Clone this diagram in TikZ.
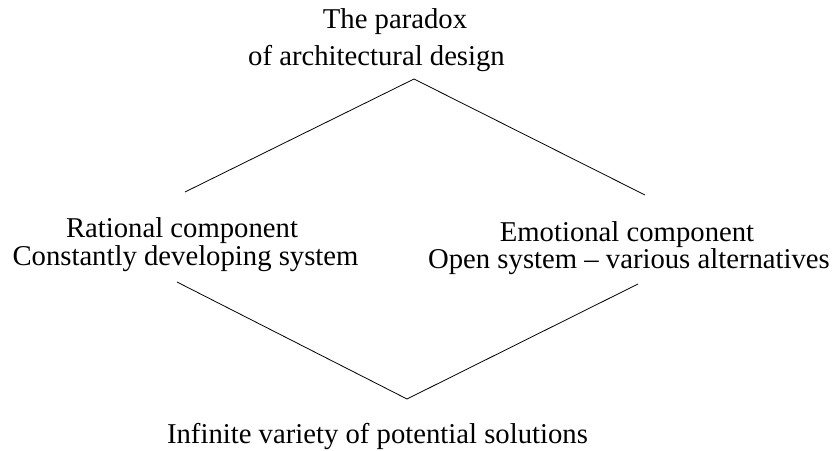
\documentclass[tikz,border=0pt]{standalone}
\usepackage{fontspec}
\setmainfont{Liberation Serif}
\usetikzlibrary{positioning,calc}
\tikzset{
    txt/.style={
        anchor=base,
        inner sep=0pt,
        font=\fontsize{28.7}{34}\selectfont,
    },
    branch/.style={
        line width=0.8pt,
    },
}

\begin{document}
\begin{tikzpicture}[x=1pt,y=-1pt]
    \useasboundingbox (0,0) rectangle (833,450);
    % labels
    \node [txt] (paradox) at (395,28) {The paradox};
    \node [txt] (design) at (376.5,65) {of architectural design};
    \node [txt] (rational) at (182,237) {Rational component};
    \node [txt] (constant) at (185.5,265) {Constantly developing system};
    \node [txt] (emotional) at (627,241.5) {Emotional component};
    \node [txt] (open) at (629,268) {Open system -- various alternatives};
    \node [txt] (infinite) at (377.5,443) {Infinite variety of potential solutions};
    % corners of the diamond
    \coordinate (top) at (414,79);
    \coordinate (left-top) at (185,192);
    \coordinate (right-top) at (645,195);
    \coordinate (left-bot) at (177,282);
    \coordinate (right-bot) at (638,284);
    \coordinate (bottom) at (407,399);
    \path [branch] (left-top) edge (top);
    \path [branch] (top) edge (right-top);
    \path [branch] (left-bot) edge (bottom);
    \path [branch] (bottom) edge (right-bot);
\end{tikzpicture}
\end{document}
